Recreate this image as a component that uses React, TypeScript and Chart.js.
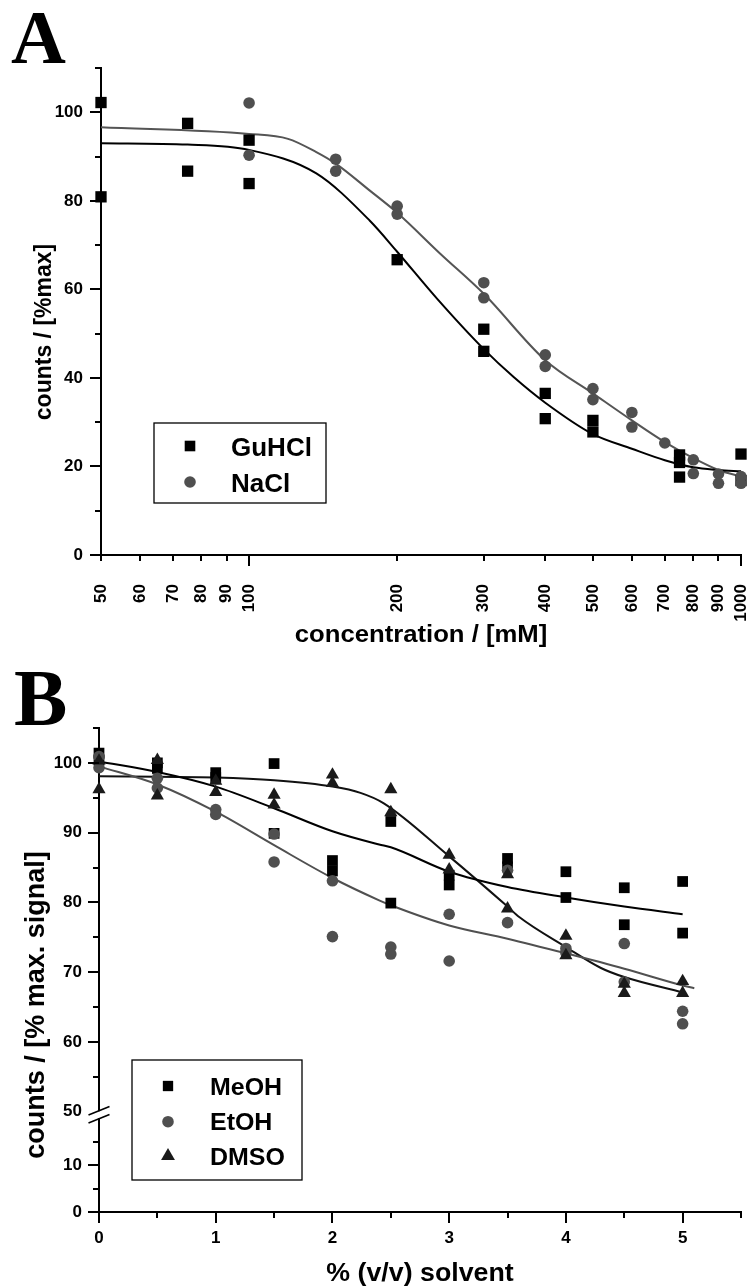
import React, { useEffect, useRef } from 'react';
import { Chart, registerables } from 'chart.js';

Chart.register(...registerables);

const SANS = '"Liberation Sans", Arial, Helvetica, sans-serif';
const SERIF = '"Liberation Serif", "Times New Roman", serif';

// ---------------- Panel A data ----------------
const guhclConc = [50, 50, 75, 75, 100, 100, 200, 300, 300, 400, 400, 500, 500, 750, 750, 750, 1000, 1000];
const guhclCounts = [102.2, 80.9, 97.5, 86.7, 93.7, 83.9, 66.7, 51.0, 46.0, 36.5, 30.8, 30.4, 27.8, 22.6, 20.9, 17.6, 22.8, 16.8];
const naclConc = [100, 100, 150, 150, 200, 200, 300, 300, 400, 400, 500, 500, 600, 600, 700, 800, 800, 900, 900, 1000, 1000];
const naclCounts = [102.1, 90.3, 89.4, 86.7, 78.8, 77.0, 61.5, 58.1, 45.2, 42.6, 37.6, 35.1, 32.2, 28.9, 25.3, 21.5, 18.4, 18.3, 16.2, 17.7, 16.2];
const guhclFitConc = [50, 75, 100, 137, 176, 200, 241, 300, 345, 400, 500, 600, 700, 800, 900, 1000];
const guhclFitCounts = [93.0, 92.7, 91.5, 86.2, 75.5, 68.5, 57.9, 46.5, 40.2, 34.4, 27.3, 24.0, 21.4, 19.8, 19.2, 18.9];
const naclFitConc = [50, 100, 120, 137, 150, 176, 200, 245, 300, 400, 500, 600, 700, 800, 900, 1000];
const naclFitCounts = [96.6, 95.1, 94.0, 91.0, 88.4, 82.3, 77.3, 68.0, 59.0, 44.0, 36.5, 30.4, 25.5, 21.9, 19.2, 17.7];

const aXLabels = [50, 60, 70, 80, 90, 100, 200, 300, 400, 500, 600, 700, 800, 900, 1000];
const aXMajorTicks = [100, 1000];
const aXMinorTicks = [50, 60, 70, 80, 90, 200, 300, 400, 500, 600, 700, 800, 900];
const aYLabels = [0, 20, 40, 60, 80, 100];
const aYMinorTicks = [10, 30, 50, 70, 90, 110];

// ---------------- Panel B data ----------------
const solventPct = [0, 0, 0.5, 0.5, 1, 1, 1.5, 1.5, 2, 2, 2.5, 2.5, 3, 3, 3.5, 3.5, 4, 4, 4.5, 4.5, 5, 5];
const meohCounts = [101.4, 100.4, 100.0, 99.2, 98.6, 97.9, 99.9, 89.9, 86.0, 84.5, 91.6, 79.9, 83.9, 82.5, 86.3, 85.1, 84.4, 80.7, 82.1, 76.8, 83.0, 75.6];
const etohCounts = [100.9, 99.3, 97.8, 96.4, 93.3, 92.6, 89.8, 85.8, 83.1, 75.1, 73.6, 72.6, 78.3, 71.6, 84.6, 77.1, 73.4, 72.8, 74.1, 68.6, 64.4, 62.6];
const dmsoCounts = [96.2, 100.3, 100.4, 95.3, 97.4, 95.8, 95.4, 94.0, 98.3, 97.1, 96.2, 92.9, 86.8, 84.7, 84.0, 79.1, 75.2, 72.4, 68.3, 67.0, 68.7, 67.0];
const meohFitPct = [0, 0.5, 1, 1.5, 2, 2.4, 2.5, 3, 3.5, 4, 4.5, 5];
const meohFitCounts = [100.2, 98.7, 96.6, 93.5, 90.2, 88.3, 87.9, 84.4, 82.2, 80.7, 79.4, 78.3];
const etohFitPct = [0, 0.5, 1, 1.5, 2, 2.4, 2.5, 3, 3.5, 4, 4.5, 5, 5.1];
const etohFitCounts = [99.5, 96.9, 93.0, 88.2, 83.5, 80.3, 79.6, 76.7, 74.8, 72.7, 70.5, 68.1, 67.7];
const dmsoFitPct = [0, 0.5, 1, 1.5, 2, 2.24, 2.44, 3, 3.5, 3.6, 4, 4.3, 4.5, 5];
const dmsoFitCounts = [98.1, 98.0, 97.9, 97.5, 96.6, 95.7, 94.2, 86.6, 79.4, 77.9, 73.6, 70.6, 69.3, 67.1];

const bXLabels = [0, 1, 2, 3, 4, 5];
const bXMinorTicks = [0.5, 1.5, 2.5, 3.5, 4.5, 5.5];
const bYUpperLabels = [50, 60, 70, 80, 90, 100];
const bYUpperMajorTicks = [60, 70, 80, 90, 100];
const bYUpperMinorTicks = [55, 65, 75, 85, 95, 105];
const bYLowerLabels = [0, 10];
const bYLowerMinorTicks = [5, 15];

const seriesA = ['GuHCl', 'NaCl'];
const seriesB = ['MeOH', 'EtOH', 'DMSO'];

const BLACK = '#000000';
const GREY = '#4f4f4f';
const DARK = '#1a1a1a';
const STRETCH_TITLE = 1.07;
const STRETCH_LEGEND = 1.04;

type Pt = { x: number; y: number };
const toPoints = (xs: number[], ys: number[]): Pt[] => xs.map((x, i) => ({ x, y: ys[i] }));

interface TickGroup { scaleId: string; values: number[]; length: number }

function tickMarks(groups: TickGroup[]) {
  return {
    id: 'tickMarks',
    afterDraw(chart: any) {
      const ctx = chart.ctx;
      ctx.save();
      ctx.strokeStyle = BLACK;
      ctx.lineWidth = 2;
      for (const g of groups) {
        const sc = chart.scales[g.scaleId];
        for (const v of g.values) {
          const p = Math.round(sc.getPixelForValue(v));
          ctx.beginPath();
          if (sc.isHorizontal()) {
            ctx.moveTo(p, sc.top);
            ctx.lineTo(p, sc.top + g.length);
          } else {
            ctx.moveTo(sc.right, p);
            ctx.lineTo(sc.right - g.length, p);
          }
          ctx.stroke();
        }
      }
      ctx.restore();
    },
  };
}

function marker(ctx: CanvasRenderingContext2D, style: string, x: number, y: number, r: number, color: string) {
  ctx.fillStyle = color;
  ctx.beginPath();
  if (style === 'rect') {
    const s = r * Math.SQRT1_2;
    ctx.rect(x - s, y - s, 2 * s, 2 * s);
  } else if (style === 'circle') {
    ctx.arc(x, y, r, 0, Math.PI * 2);
  } else {
    const a = (2 * Math.PI) / 3;
    ctx.moveTo(x, y - r);
    ctx.lineTo(x + Math.sin(a) * r, y - Math.cos(a) * r);
    ctx.lineTo(x + Math.sin(2 * a) * r, y - Math.cos(2 * a) * r);
    ctx.closePath();
  }
  ctx.fill();
}

function stretchedText(ctx: CanvasRenderingContext2D, text: string, x: number, y: number, sx: number) {
  ctx.save();
  ctx.translate(x, y);
  ctx.scale(sx, 1);
  ctx.fillText(text, 0, 0);
  ctx.restore();
}

interface LegendItem { text: string; style: string; r: number; color: string; mx: number; my: number; tx: number; ty: number }
interface Decor {
  letter: string; letterSize: number; letterX: number; letterY: number;
  xTitle: string; xTitleSize: number; xTitleX: number; xTitleY: number;
  yTitle: string; yTitleSize: number; yTitleX: number; yTitleY: number;
  legendBox: [number, number, number, number]; legendSize: number; items: LegendItem[];
  axisBreak?: boolean;
}

function decorations(d: Decor) {
  return {
    id: 'decor',
    afterDraw(chart: any) {
      const ctx: CanvasRenderingContext2D = chart.ctx;
      ctx.save();
      ctx.fillStyle = BLACK;
      ctx.textBaseline = 'alphabetic';
      ctx.textAlign = 'left';
      ctx.font = `bold ${d.letterSize}px ${SERIF}`;
      ctx.fillText(d.letter, d.letterX, d.letterY);

      ctx.textAlign = 'center';
      ctx.font = `bold ${d.xTitleSize}px ${SANS}`;
      stretchedText(ctx, d.xTitle, d.xTitleX, d.xTitleY, STRETCH_TITLE);

      ctx.save();
      ctx.translate(d.yTitleX, d.yTitleY);
      ctx.rotate(-Math.PI / 2);
      ctx.font = `bold ${d.yTitleSize}px ${SANS}`;
      ctx.fillText(d.yTitle, 0, 0);
      ctx.restore();

      // legend
      const [lx, ly, lw, lh] = d.legendBox;
      ctx.fillStyle = '#ffffff';
      ctx.fillRect(lx, ly, lw, lh);
      ctx.strokeStyle = BLACK;
      ctx.lineWidth = 1.3;
      ctx.strokeRect(lx, ly, lw, lh);
      ctx.textAlign = 'left';
      ctx.font = `bold ${d.legendSize}px ${SANS}`;
      for (const it of d.items) {
        marker(ctx, it.style, it.mx, it.my, it.r, it.color);
        ctx.fillStyle = BLACK;
        stretchedText(ctx, it.text, it.tx, it.ty, STRETCH_LEGEND);
      }

      if (d.axisBreak) {
        const yU = chart.scales.y;
        const ax = yU.right;
        const yj = yU.bottom;
        ctx.fillStyle = '#ffffff';
        ctx.fillRect(ax - 2, yj - 0.5, 4, 7);
        ctx.strokeStyle = BLACK;
        ctx.lineWidth = 1.6;
        for (const cy of [yj - 1, yj + 7]) {
          ctx.beginPath();
          ctx.moveTo(ax - 10.5, cy + 4.2);
          ctx.lineTo(ax + 10.5, cy - 4.2);
          ctx.stroke();
        }
      }
      ctx.restore();
    },
  };
}

const fixTicks = (values: number[]) => (scale: any) => {
  scale.ticks = values.map((v) => ({ value: v }));
};
const fixWidth = (w: number) => (scale: any) => {
  scale.width = w;
  scale.paddingTop = 0; scale.paddingBottom = 0; scale.paddingLeft = 0; scale.paddingRight = 0;
};
const fixHeight = (h: number) => (scale: any) => {
  scale.height = h;
  scale.paddingTop = 0; scale.paddingBottom = 0; scale.paddingLeft = 0; scale.paddingRight = 0;
};

const axisBase = {
  grid: { display: false, drawTicks: false },
  border: { display: true, color: BLACK, width: 2 },
};
const tickFont = { family: SANS, size: 17, weight: 'bold' };

function configA(): any {
  return {
    type: 'scatter',
    data: {
      datasets: [
        { label: seriesA[0], data: toPoints(guhclConc, guhclCounts), pointStyle: 'rect', pointRadius: 8, pointBackgroundColor: BLACK, pointBorderWidth: 0, order: 1, clip: false },
        { label: seriesA[1], data: toPoints(naclConc, naclCounts), pointStyle: 'circle', pointRadius: 5.8, pointBackgroundColor: GREY, pointBorderWidth: 0, order: 0, clip: false },
        { type: 'line', label: 'GuHCl fit', data: toPoints(guhclFitConc, guhclFitCounts), borderColor: BLACK, borderWidth: 2, pointRadius: 0, cubicInterpolationMode: 'monotone', order: 5, clip: false },
        { type: 'line', label: 'NaCl fit', data: toPoints(naclFitConc, naclFitCounts), borderColor: '#555555', borderWidth: 2, pointRadius: 0, cubicInterpolationMode: 'monotone', order: 6, clip: false },
      ],
    },
    options: {
      responsive: false,
      animation: false,
      events: [],
      devicePixelRatio: 1,
      layout: { padding: { left: 0, top: 68, right: 8, bottom: 0 } },
      plugins: { legend: { display: false }, tooltip: { enabled: false }, title: { display: false } },
      scales: {
        x: {
          ...axisBase,
          type: 'logarithmic', min: 50, max: 1000,
          ticks: { autoSkip: false, minRotation: 90, maxRotation: 90, padding: 29, color: BLACK, font: tickFont, callback: (v: any) => String(v) },
          afterBuildTicks: fixTicks(aXLabels),
          afterFit: fixHeight(95),
        },
        y: {
          ...axisBase,
          type: 'linear', min: 0, max: 110,
          ticks: { autoSkip: false, padding: 18, color: BLACK, font: tickFont },
          afterBuildTicks: fixTicks(aYLabels),
          afterFit: fixWidth(101),
        },
      },
    },
    plugins: [
      tickMarks([
        { scaleId: 'x', values: aXMajorTicks, length: 11 },
        { scaleId: 'x', values: aXMinorTicks, length: 6 },
        { scaleId: 'y', values: aYLabels, length: 11 },
        { scaleId: 'y', values: aYMinorTicks, length: 6 },
      ]),
      decorations({
        letter: 'A', letterSize: 76, letterX: 11, letterY: 63,
        xTitle: 'concentration / [mM]', xTitleSize: 24, xTitleX: 421, xTitleY: 642,
        yTitle: 'counts / [%max]', yTitleSize: 23, yTitleX: 51, yTitleY: 332,
        legendBox: [154, 423, 172, 80], legendSize: 25,
        items: [
          { text: seriesA[0], style: 'rect', r: 7.5, color: BLACK, mx: 190, my: 446, tx: 231, ty: 456 },
          { text: seriesA[1], style: 'circle', r: 5.8, color: GREY, mx: 190, my: 482, tx: 231, ty: 492 },
        ],
      }),
    ],
  };
}

function configB(): any {
  return {
    type: 'scatter',
    data: {
      datasets: [
        { label: seriesB[0], data: toPoints(solventPct, meohCounts), yAxisID: 'y', pointStyle: 'rect', pointRadius: 7.6, pointBackgroundColor: BLACK, pointBorderWidth: 0, order: 2, clip: false },
        { label: seriesB[1], data: toPoints(solventPct, etohCounts), yAxisID: 'y', pointStyle: 'circle', pointRadius: 5.8, pointBackgroundColor: GREY, pointBorderWidth: 0, order: 1, clip: false },
        { label: seriesB[2], data: toPoints(solventPct, dmsoCounts), yAxisID: 'y', pointStyle: 'triangle', pointRadius: 7.6, pointBackgroundColor: DARK, pointBorderWidth: 0, order: 0, clip: false },
        { type: 'line', label: 'MeOH fit', yAxisID: 'y', data: toPoints(meohFitPct, meohFitCounts), borderColor: BLACK, borderWidth: 2, pointRadius: 0, cubicInterpolationMode: 'monotone', order: 5, clip: false },
        { type: 'line', label: 'EtOH fit', yAxisID: 'y', data: toPoints(etohFitPct, etohFitCounts), borderColor: '#505050', borderWidth: 2, pointRadius: 0, cubicInterpolationMode: 'monotone', order: 6, clip: false },
        { type: 'line', label: 'DMSO fit', yAxisID: 'y', data: toPoints(dmsoFitPct, dmsoFitCounts), borderColor: '#111111', borderWidth: 2, pointRadius: 0, cubicInterpolationMode: 'monotone', order: 7, clip: false },
      ],
    },
    options: {
      responsive: false,
      animation: false,
      events: [],
      devicePixelRatio: 1,
      layout: { padding: { left: 0, top: 68, right: 8, bottom: 0 } },
      plugins: { legend: { display: false }, tooltip: { enabled: false }, title: { display: false } },
      scales: {
        x: {
          ...axisBase,
          type: 'linear', min: 0, max: 5.5,
          ticks: { autoSkip: false, maxRotation: 0, padding: 16, color: BLACK, font: tickFont },
          afterBuildTicks: fixTicks(bXLabels),
          afterFit: fixHeight(75),
        },
        y: {
          ...axisBase,
          type: 'linear', position: 'left', stack: 'counts', stackWeight: 383.7, weight: 2,
          min: 50, max: 105,
          ticks: { autoSkip: false, padding: 17, color: BLACK, font: tickFont },
          afterBuildTicks: fixTicks(bYUpperLabels),
          afterFit: fixWidth(99),
        },
        y2: {
          ...axisBase,
          type: 'linear', position: 'left', stack: 'counts', stackWeight: 100.3, weight: 1,
          min: 0, max: 21.5,
          ticks: { autoSkip: false, padding: 17, color: BLACK, font: tickFont },
          afterBuildTicks: fixTicks(bYLowerLabels),
          afterFit: fixWidth(99),
        },
      },
    },
    plugins: [
      tickMarks([
        { scaleId: 'x', values: bXLabels, length: 11 },
        { scaleId: 'x', values: bXMinorTicks, length: 6 },
        { scaleId: 'y', values: bYUpperMajorTicks, length: 11 },
        { scaleId: 'y', values: bYUpperMinorTicks, length: 6 },
        { scaleId: 'y2', values: bYLowerLabels, length: 11 },
        { scaleId: 'y2', values: bYLowerMinorTicks, length: 6 },
      ]),
      decorations({
        letter: 'B', letterSize: 80, letterX: 14, letterY: 65,
        xTitle: '% (v/v) solvent', xTitleSize: 25, xTitleX: 420, xTitleY: 621,
        yTitle: 'counts / [% max. signal]', yTitleSize: 27, yTitleX: 43.5, yTitleY: 345,
        legendBox: [132, 400, 170, 120], legendSize: 24,
        items: [
          { text: seriesB[0], style: 'rect', r: 7.3, color: BLACK, mx: 168, my: 426, tx: 210, ty: 435 },
          { text: seriesB[1], style: 'circle', r: 5.8, color: GREY, mx: 168, my: 461.7, tx: 210, ty: 470 },
          { text: seriesB[2], style: 'triangle', r: 8, color: DARK, mx: 168, my: 496, tx: 210, ty: 505 },
        ],
        axisBreak: true,
      }),
    ],
  };
}

function ChartCanvas({ make, width, height, top }: { make: () => any; width: number; height: number; top: number }) {
  const ref = useRef<HTMLCanvasElement | null>(null);
  useEffect(() => {
    if (!ref.current) return;
    const chart = new Chart(ref.current, make());
    return () => chart.destroy();
  }, [make]);
  return (
    <canvas
      ref={ref}
      width={width}
      height={height}
      style={{ position: 'absolute', left: 0, top, width, height, display: 'block' }}
    />
  );
}

export default function App() {
  return (
    <div style={{ position: 'absolute', left: 0, top: 0, width: 749, height: 1287, background: '#ffffff', overflow: 'hidden' }}>
      <ChartCanvas make={configA} width={749} height={650} top={0} />
      <ChartCanvas make={configB} width={749} height={627} top={660} />
    </div>
  );
}
